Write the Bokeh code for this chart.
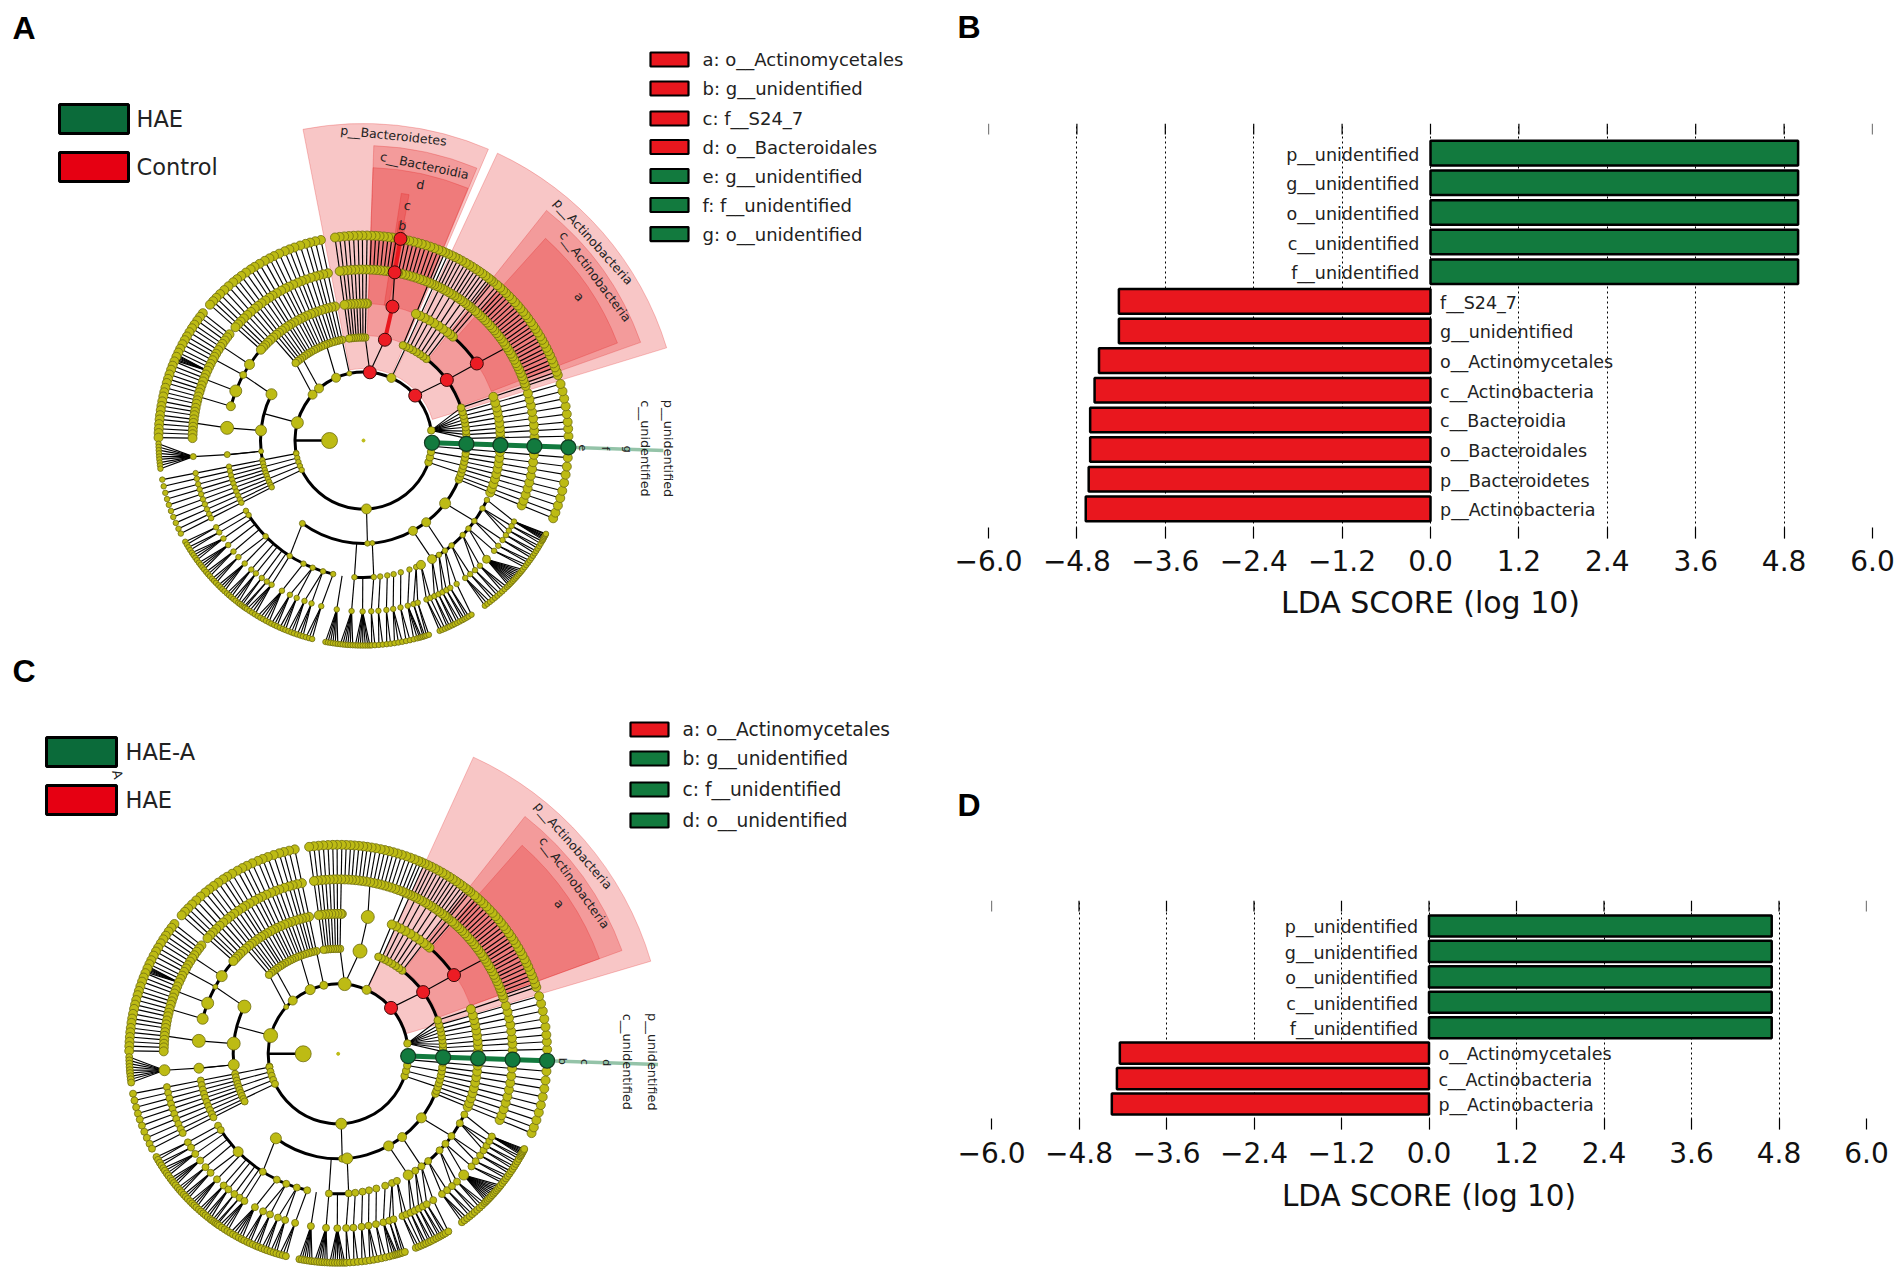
import math
import numpy as np
from bokeh.embed import file_html
from bokeh.layouts import column, row
from bokeh.models import ColumnDataSource, FixedTicker, LinearAxis, Range1d
from bokeh.core.properties import value
from bokeh.plotting import figure
from bokeh.resources import INLINE

# ---------- LDA bars ----------
TICKS = [-6.0, -4.8, -3.6, -2.4, -1.2, 0.0, 1.2, 2.4, 3.6, 4.8, 6.0]
TICK_TEXT = ["\u22126.0", "\u22124.8", "\u22123.6", "\u22122.4", "\u22121.2", "0.0", "1.2", "2.4", "3.6", "4.8", "6.0"]
B_TAXA = ["p__unidentified", "g__unidentified", "o__unidentified", "c__unidentified", "f__unidentified",
          "f__S24_7", "g__unidentified", "o__Actinomycetales", "c__Actinobacteria", "c__Bacteroidia",
          "o__Bacteroidales", "p__Bacteroidetes", "p__Actinobacteria"]
B_SCORES = [4.99, 4.99, 4.99, 4.99, 4.99, -4.23, -4.23, -4.50, -4.56, -4.62, -4.62, -4.64, -4.68]
D_TAXA = ["p__unidentified", "g__unidentified", "o__unidentified", "c__unidentified", "f__unidentified",
          "o__Actinomycetales", "c__Actinobacteria", "p__Actinobacteria"]
D_SCORES = [4.70, 4.70, 4.70, 4.70, 4.70, -4.24, -4.28, -4.35]

# ---------- legends ----------
A_GROUPS = ["HAE", "Control"]
C_GROUPS = ["HAE-A", "HAE"]
A_KEYS = ["a: o__Actinomycetales", "b: g__unidentified", "c: f__S24_7", "d: o__Bacteroidales",
          "e: g__unidentified", "f: f__unidentified", "g: o__unidentified"]
A_KEY_CLASS = ["r", "r", "r", "r", "g", "g", "g"]
C_KEYS = ["a: o__Actinomycetales", "b: g__unidentified", "c: f__unidentified", "d: o__unidentified"]
C_KEY_CLASS = ["r", "g", "g", "g"]

# ---------- cladogram: angles in degrees, counter-clockwise from east ----------
RADII_A = [34.0, 68.5, 103.0, 137.0, 171.0, 205.0]
RADII_C = [35.0, 70.0, 105.0, 140.0, 174.5, 209.0]
GREEN_ANGLE = 358.1

# runs of single-child lineages: (first ring, last ring, angles)
CHAINS = [
    (2, 5, [102.0, 103.6, 105.1, 106.4, 108.0, 109.7, 111.2, 112.6, 114.3, 115.9, 117.3, 118.8, 120.5, 122.1,
            123.4, 125.0, 126.6, 128.1, 129.5, 131.2]),
    (3, 5, [132.8, 134.4, 135.9, 137.2, 138.5]),
    (4, 5, [141.6, 142.9, 144.2, 145.6, 146.8, 148.1, 149.5, 150.7, 152.0, 153.4, 154.6, 155.9, 157.3, 158.6,
            159.8, 161.2, 162.5, 163.7, 165.1, 166.4, 167.6, 169.0, 170.3, 171.5, 172.9, 174.1, 175.4, 176.7,
            177.9, 179.2]),
    (1, 5, [191.0, 194.8, 198.3, 201.9, 205.5]),
    (2, 5, [192.9, 196.6, 200.1, 203.7, 207.0]),
    (1, 5, [355.2, 350.4, 345.8, 341.5]),
    (2, 5, [352.7, 348.1, 343.7, 339.4, 337.7]),
    (2, 5, [1.2, 3.3, 5.2, 7.4, 9.6, 11.8, 13.9, 16.0, 18.6]),
    (4, 5, [19.6, 20.9, 22.1, 23.3, 24.6, 25.8, 26.9, 28.2, 29.4, 30.5, 31.8, 33.0, 34.1, 35.3, 36.6, 37.7, 38.9,
            40.1, 41.2, 42.4, 43.6, 44.8, 46.0, 47.1, 48.2, 51.6, 53.5, 55.7, 57.9, 60.1, 62.4, 64.5, 66.6, 68.6,
            69.8, 71.0, 72.3, 73.5, 74.7, 75.9, 77.1, 78.3, 80.8, 82.0, 83.1, 84.3, 85.5, 86.6, 87.8]),
    (3, 5, [49.3, 50.8]),
    (2, 5, [52.4, 54.6, 56.8, 59.0, 61.3, 63.5, 65.6, 67.5]),
    (2, 5, [89.0, 90.3, 91.5, 92.8, 94.1, 95.4, 96.7, 98.0]),
]
# parents with their own children: (parent ring, parent angle, child angles on next ring)
FANS = [
    (1, 8.5, [1.2, 3.3, 5.2, 7.4, 9.6, 11.8, 13.9, 16.0, 18.6]),
    (1, 41.0, [36.0]), (2, 36.0, [34.2]), (3, 34.2, [33.0]),
    (1, 66.0, [65.6]), (1, 84.7, [78.0]), (2, 78.0, [77.8]), (3, 77.8, [79.5]), (4, 79.5, [79.6]),
    (1, 84.7, [89.0]), (1, 101.9, [102.0]), (1, 113.6, [111.2]), (1, 130.5, [126.6]), (1, 138.0, [131.2]),
    (2, 153.3, [151.4]), (2, 174.4, [174.7]), (2, 186.0, [185.9]), (3, 185.9, [185.4]),
    (4, 185.4, [180.9, 181.8, 182.7, 183.6, 184.5, 185.3, 186.2, 187.0, 187.9]),
    (3, 210.9, [210.5]), (3, 213.0, [212.5]),
    (4, 210.5, [209.6, 210.5]), (4, 212.5, [211.4, 212.3]),
    (4, 215.0, [213.2, 214.0, 214.9, 215.7]), (4, 217.7, [216.6, 217.4, 218.2, 219.0]),
    (4, 220.5, [219.9, 220.7, 221.5]), (3, 224.4, [223.0]), (4, 223.0, [222.4, 223.2, 224.0]),
    (4, 226.0, [224.9, 225.7, 226.5, 227.3]), (4, 229.0, [228.2, 229.0, 229.8]), (4, 231.0, [230.6, 231.4, 232.3]),
    (4, 233.5, [232.9, 233.6]), (4, 235.6, [234.2, 234.7]),
    (2, 233.6, [237.4]), (3, 237.4, [237.5]), (4, 237.5, [235.3, 236.2, 237.1, 238.0]),
    (3, 244.0, [241.5]), (4, 241.5, [238.9, 239.8, 240.7, 241.6, 242.5]),
    (3, 248.2, [244.5, 247.0]), (4, 244.5, [243.3, 244.2, 245.0]), (4, 247.0, [245.9, 246.8, 247.6]),
    (3, 252.8, [249.8, 252.3]), (4, 249.8, [248.5, 249.4, 250.2]), (4, 252.3, [251.1, 252.0, 252.8]),
    (3, 257.2, [255.7]), (4, 255.7, [253.7, 254.6, 255.5]),
    (4, 261.0, [259.3, 260.0, 260.7, 261.4, 262.1, 262.8]),
    (3, 266.2, [266.0]), (4, 266.0, [263.5, 264.2, 264.9, 265.6, 266.3, 267.0]),
    (4, 269.7, [267.7, 268.4, 269.1, 269.8, 270.5, 271.2, 271.8]),
    (1, 272.5, [272.2]), (2, 274.9, [274.3]),
    (3, 274.3, [272.6]), (4, 272.6, [272.3, 273.2]), (3, 277.0, [275.0]), (4, 275.0, [274.3, 275.4]),
    (3, 280.0, [277.7]), (4, 277.7, [276.5, 277.6]), (3, 282.7, [280.0]), (4, 280.0, [278.7, 279.8, 280.9]),
    (3, 285.8, [282.5]), (4, 282.5, [282.0, 283.1]), (3, 289.6, [285.0]), (4, 285.0, [284.2, 285.2, 285.9, 286.4]),
    (3, 292.6, [287.0]), (4, 287.0, [286.9, 287.4]), (4, 288.5, [287.9, 288.6]),
    (3, 294.8, [291.6, 293.0]), (4, 291.6, [291.8, 292.6]), (4, 293.0, [293.4]),
    (2, 298.7, [300.0]), (3, 300.0, [294.5, 296.0]), (4, 294.5, [294.2, 294.9]), (4, 296.0, [295.7, 296.4]),
    (3, 303.4, [297.5, 299.0]), (4, 297.5, [297.2, 298.0]), (4, 299.0, [298.8, 299.5]),
    (2, 307.5, [306.5]), (3, 306.5, [300.5, 303.0]), (4, 300.5, [300.2, 300.9]), (4, 303.0, [301.8]),
    (3, 310.0, [306.5, 308.6]), (4, 306.5, [306.3, 307.2, 308.1]), (4, 308.6, [309.0, 309.9]),
    (3, 316.4, [310.7, 312.9]), (4, 310.7, [310.8, 311.7]), (4, 312.9, [312.6, 313.5, 314.4]),
    (3, 320.0, [316.0, 319.8]),
    (4, 316.0, [315.0, 315.6, 316.2, 316.8, 317.4, 318.0, 318.6, 319.2, 319.8, 320.4, 321.0]),
    (4, 319.8, [321.8, 322.6]),
    (2, 322.4, [324.0]), (3, 324.0, [322.0, 324.4]), (4, 322.0, [323.4, 324.2]), (4, 324.4, [325.0, 325.8]),
    (3, 330.3, [326.4, 328.2, 330.0]), (4, 326.4, [326.6, 327.4]), (4, 328.2, [328.2, 329.0]), (4, 330.0, [329.8, 330.6]),
    (3, 334.3, [331.7]), (4, 331.7, [331.0, 331.4, 331.8, 332.2, 332.6, 332.9]),
]
# parent ring and the two angles of a link that ends on an arc (no node of its own)
LINKS = [
    (3, 146.3, 146.3), (3, 151.4, 151.4), (3, 158.8, 158.8), (3, 165.5, 165.1), (3, 174.7, 174.1),
    (1, 164.9, 164.9), (2, 186.0, 186.0),
    (3, 215.0, 215.0), (3, 217.7, 217.7), (3, 220.5, 220.5), (3, 226.0, 226.0),
    (3, 229.0, 229.0), (3, 231.0, 231.0), (3, 233.5, 233.5), (3, 235.6, 235.6),
    (3, 261.0, 261.0), (3, 269.7, 269.7), (2, 266.2, 266.2), (3, 292.6, 288.5),
    (4, 155.9, 155.3), (4, 155.9, 155.6), (4, 155.9, 156.2), (4, 155.9, 156.6), (4, 155.9, 157.0),
]
# thick arcs: (ring, from angle, to angle)
ARCS = [
    (1, 8.5, 350.0),
    (2, 18.6, 53.0), (2, 153.3, 207.0), (2, 233.6, 338.0),
    (3, 34.2, 49.3), (3, 139.0, 165.5), (3, 210.9, 257.2), (3, 266.2, 274.3), (3, 300.0, 334.3),
]
EXTRA_NODES = [
    (0, 180.0), (1, 190.5), (1, 113.6), (1, 101.9), (1, 130.5), (1, 138.0), (1, 164.9),
    (2, 153.3), (2, 174.4), (2, 186.0), (2, 233.6),
    (3, 146.3), (3, 151.4), (3, 158.8), (3, 165.5), (3, 174.7), (3, 185.9),
    (3, 88.5), (3, 210.9), (3, 213.0),
]
A_RED = [(1, 84.7), (1, 41.0), (2, 78.0), (2, 36.0), (3, 77.8), (3, 34.2), (4, 79.5), (5, 79.6)]
C_RED = [(1, 41.0), (2, 36.0), (3, 34.2)]

A_SIZES = {(0, 180.0): 16, (1, 164.9): 12, (1, 138.0): 9, (1, 130.5): 9, (1, 113.6): 9, (1, 101.9): 5, (1, 66.0): 9,
           (1, 272.5): 10, (2, 153.3): 11, (2, 174.4): 11, (2, 186.0): 5, (2, 298.7): 9, (2, 307.5): 9,
           (2, 322.4): 11, (2, 233.6): 6, (2, 274.9): 5, (3, 146.3): 10, (3, 151.4): 7, (3, 158.8): 12,
           (3, 165.5): 9, (3, 174.7): 13, (3, 185.9): 6, (3, 300.0): 9, (3, 294.8): 9, (4, 185.4): 6, (4, 316.0): 8}
C_SIZES = {(0, 180.0): 16, (1, 164.9): 14, (1, 138.0): 5, (1, 130.5): 9, (1, 113.6): 10, (1, 101.9): 8, (1, 66.0): 9,
           (1, 272.5): 11, (1, 84.7): 13, (2, 78.0): 14, (3, 77.8): 13, (2, 153.3): 13, (2, 174.4): 13,
           (2, 186.0): 11, (2, 298.7): 10, (2, 307.5): 9, (2, 322.4): 10, (2, 233.6): 11, (2, 274.9): 11,
           (3, 146.3): 11, (3, 151.4): 5, (3, 158.8): 12, (3, 165.5): 11, (3, 174.7): 13, (3, 185.9): 10,
           (3, 224.4): 10, (3, 300.0): 10, (4, 185.4): 11, (4, 316.0): 10}

# highlighted sectors: inner radius, outer radius, start angle, end angle
A_SECT_INNER = [72, 105, 137, 72, 105, 137, 137, 171]
A_SECT_OUTER = [317, 295, 273, 317, 294, 272, 250, 222]
A_SECT_START = [66.8, 67.4, 67.5, 17.0, 19.5, 21.0, 79.5, 79.0]
A_SECT_END = [101.0, 88.0, 88.0, 65.0, 51.5, 48.0, 81.3, 80.8]
C_SECT_INNER = [71, 107, 141]
C_SECT_OUTER = [326, 302, 278]
C_SECT_START = [16.5, 20.0, 20.0]
C_SECT_END = [65.5, 51.8, 48.6]

GREEN = "#127A3E"
RED = "#E9171E"
OLIVE = "#BDBB14"
FONT = value("DejaVu Sans")
W_LEFT, W_RIGHT = 950, 952
H_TOP, H_BOT = 650, 625


def polar(cx, cy, r, a):
    t = math.radians(a)
    return cx + r * math.cos(t), cy - r * math.sin(t)


def canvas_fig(x0, top, w, h):
    # data units are page pixels, with the vertical axis negated so that angles read counter-clockwise
    p = figure(width=w, height=h, x_range=Range1d(x0, x0 + w), y_range=Range1d(-(top + h), -top),
               x_axis_type=None, y_axis_type=None, toolbar_location=None, output_backend="svg",
               min_border=0, outline_line_color=None)
    p.grid.visible = False
    return p


def letter(p, txt, x, y):
    p.text([x], [-y], text=[txt], text_font=value("Liberation Sans"), text_font_size="32px",
           text_font_style="bold", text_color="black", text_baseline="alphabetic")


def cladogram(top, height, cx, cy, radii, sizes, reds, sectors, sector_texts, tail_end, tail_letters, tail_x,
              groups, key_rows, lower_size, key_font):
    p = canvas_fig(0, top, W_LEFT, height)
    inner, outer, start, end = sectors
    p.annular_wedge(x=[cx] * len(inner), y=[-cy] * len(inner), inner_radius=inner, outer_radius=outer,
                    start_angle=start, end_angle=end, start_angle_units="deg", end_angle_units="deg",
                    fill_color="#E41A1C", fill_alpha=0.25, line_color="#E41A1C", line_alpha=0.25, line_width=1)

    nodes, xs, ys = set(EXTRA_NODES), [], []

    def seg(k0, a0, k1, a1):
        x0, y0 = polar(cx, cy, radii[k0], a0)
        x1, y1 = polar(cx, cy, radii[k1], a1)
        xs.append([x0, x1])
        ys.append([-y0, -y1])

    for first, last, angles in CHAINS:
        for a in angles:
            for k in range(first, last + 1):
                nodes.add((k, a))
                if k > first:
                    seg(k - 1, a, k, a)
    for k, pa, children in FANS:
        nodes.add((k, pa))
        for ch in children:
            nodes.add((k + 1, ch))
            seg(k, pa, k + 1, ch)
    for k, a0, a1 in LINKS:
        seg(k, a0, k + 1, a1)
    p.multi_line(xs, ys, line_color="black", line_width=1.15)

    p.arc(x=[cx + 0.0] * len(ARCS), y=[-cy] * len(ARCS), radius=[radii[r[0]] for r in ARCS],
          start_angle=[r[1] for r in ARCS], end_angle=[r[2] for r in ARCS], start_angle_units="deg",
          end_angle_units="deg", line_color="black", line_width=3)
    x0, y0 = polar(cx, cy, radii[0], 180.0)
    x1, y1 = polar(cx, cy, radii[1], 180.0)
    p.line([x0, x1], [-y0, -y1], line_color="black", line_width=2.6)

    for k0, a0, k1, a1 in [(2, 78.0, 3, 77.8), (4, 79.5, 5, 79.6)]:
        if (k1, a1) in reds:
            xa, ya = polar(cx, cy, radii[k0], a0)
            xb, yb = polar(cx, cy, radii[k1], a1)
            p.line([xa, xb], [-ya, -yb], line_color=RED, line_width=4)

    xa, ya = polar(cx, cy, radii[1], GREEN_ANGLE)
    xb, yb = polar(cx, cy, radii[5], GREEN_ANGLE)
    xt, yt = polar(cx, cy, tail_end, GREEN_ANGLE)
    p.line([xb, xt], [-yb, -yt], line_color=GREEN, line_alpha=0.45, line_width=3.5)
    p.line([xa, xb], [-ya, -yb], line_color=GREEN, line_width=5)

    reg = sorted(n for n in nodes if n not in reds)

    def dia(n):
        if n in sizes:
            return sizes[n]
        k, ang = n
        upper = ang < 180 or ang > 337
        if k >= 3:
            return 9 if upper else lower_size
        return 7.5 if upper else lower_size

    nx, ny = zip(*[polar(cx, cy, radii[k], ang) for k, ang in reg])
    p.scatter(list(nx), [-v for v in ny], size=[dia(n) for n in reg], fill_color=OLIVE,
              line_color="#6E6C10", line_width=0.8)
    p.scatter([cx], [-cy], size=3, fill_color=OLIVE, line_color=OLIVE)
    rx, ry = zip(*[polar(cx, cy, radii[k], ang) for k, ang in reds])
    p.scatter(list(rx), [-v for v in ry], size=13, fill_color="#EC1C24", line_color="#3A0A0A", line_width=1)
    gx, gy = zip(*[polar(cx, cy, radii[k], GREEN_ANGLE) for k in range(1, 6)])
    p.scatter(list(gx), [-v for v in gy], size=15, fill_color=GREEN, line_color="#123A22", line_width=1.2)

    for txt, px, py, rot, fs in sector_texts:
        p.text([px], [-py], text=[txt], angle=rot, angle_units="deg", text_font=FONT, text_font_size=fs,
               text_align="center", text_baseline="middle", text_color="#222222")
    for i, txt in enumerate(tail_letters):
        xl, yl = polar(cx, cy, radii[5] + 15 + i * 22, GREEN_ANGLE)
        p.text([xl], [-yl], text=[txt], angle=-90, angle_units="deg", text_font=FONT, text_font_size="11px",
               text_align="center", text_baseline="middle", text_color="#222222")
    for txt, tx in zip(["p__unidentified", "c__unidentified"], tail_x):
        p.text([tx], [-(cy + 8)], text=[txt], angle=-90, angle_units="deg", text_font=FONT, text_font_size="12.8px",
               text_align="center", text_baseline="middle", text_color="#222222")

    for name, col, (x, y, w, h), tx in groups:
        p.rect([x + w / 2], [-(y + h / 2)], width=w, height=h, fill_color=col, line_color="black", line_width=3)
        p.text([tx], [-(y + h / 2)], text=[name], text_font=FONT, text_font_size="22.5px", text_baseline="middle",
               text_color="#222222")
    for name, cls, (x, y, w, h), tx in key_rows:
        p.rect([x + w / 2], [-y], width=w, height=h, fill_color=GREEN if cls == "g" else RED,
               line_color="black", line_width=2.2)
        p.text([tx], [-y], text=[name], text_font=FONT, text_font_size=key_font, text_baseline="middle",
               text_color="#222222")
    return p


def bars(height, left_b, right_b, top_b, bottom_b, taxa, scores, ymax, label_font, tick_off, label_off, top_tick):
    n = len(taxa)
    p = figure(width=W_RIGHT, height=height, x_range=Range1d(-6.0, 6.0), y_range=Range1d(-1.0, ymax),
               x_axis_location=None, y_axis_location=None, toolbar_location=None, output_backend="svg",
               min_border_left=left_b, min_border_right=right_b, min_border_top=top_b, min_border_bottom=bottom_b,
               outline_line_color=None)
    ticker = FixedTicker(ticks=TICKS)
    below = LinearAxis(ticker=ticker, axis_label="LDA SCORE (log 10)", axis_line_color=None,
                       major_tick_in=11, major_tick_out=0, minor_tick_line_color=None,
                       major_tick_line_color="black", major_tick_line_width=1.2,
                       major_label_overrides=dict(zip(TICKS, TICK_TEXT)),
                       major_label_text_font="DejaVu Sans", major_label_text_font_size="28px",
                       major_label_text_color="#111111", major_label_standoff=tick_off,
                       axis_label_text_font="DejaVu Sans", axis_label_text_font_size=label_font,
                       axis_label_text_font_style="normal", axis_label_text_color="#111111",
                       axis_label_standoff=label_off)
    p.add_layout(below, "below")
    p.xgrid.ticker = ticker
    p.xgrid.grid_line_color = "black"
    p.xgrid.grid_line_dash = "2 3"
    p.xgrid.grid_line_width = 1
    p.ygrid.visible = False
    # inward tick marks along the top edge
    p.segment(x0=TICKS, x1=TICKS, y0=[ymax - top_tick] * len(TICKS), y1=[ymax] * len(TICKS),
              line_color="black", line_width=1.2)
    ypos = [n - 1 - i for i in range(n)]
    src = ColumnDataSource(dict(
        y=ypos, ty=[v - 0.05 for v in ypos], right=scores, left=[0.0] * n,
        color=[GREEN if s > 0 else RED for s in scores], taxa=taxa,
        tx=[-0.15 if s > 0 else 0.13 for s in scores],
        ta=["right" if s > 0 else "left" for s in scores]))
    p.hbar(y="y", left="left", right="right", height=0.83, fill_color="color", line_color="black", line_width=2.5, source=src)
    p.text(x="tx", y="ty", text="taxa", text_align="ta", text_baseline="middle", text_font=FONT,
           text_font_size="17.5px", text_color="#222222", source=src)
    return p


a = cladogram(
    0, H_TOP, 363.0, 440.0, RADII_A, A_SIZES, A_RED,
    (A_SECT_INNER, A_SECT_OUTER, A_SECT_START, A_SECT_END),
    [("p__Bacteroidetes", 393, 135, -6, "12.5px"), ("c__Bacteroidia", 424, 165, -12, "12.5px"),
     ("d", 420, 184, -10, "12.5px"), ("c", 407, 205, -10, "12.5px"), ("b", 402, 225, -10, "12.5px"),
     ("p__Actinobacteria", 593, 241, -48, "12.5px"), ("c__Actinobacteria", 595, 276, -53, "12.5px"),
     ("a", 579, 296, -50, "12.5px")],
    300, ["e", "f", "g"], [668, 645],
    [(A_GROUPS[0], "#0B6B3A", (59, 104, 69, 29), 136), (A_GROUPS[1], "#E60012", (59, 152, 69, 29), 136)],
    [(n, k, (650, y, 38, 14), 702) for n, k, y in zip(A_KEYS, A_KEY_CLASS, [59, 88, 118, 146.5, 175.5, 204.5, 233.6])],
    5.5, "18px",
)
c = cladogram(
    H_TOP, H_BOT, 337.7, 1053.3, RADII_C, C_SIZES, C_RED,
    (C_SECT_INNER, C_SECT_OUTER, C_SECT_START, C_SECT_END),
    [("p__Actinobacteria", 573, 845, -49, "12.5px"), ("c__Actinobacteria", 574, 882, -54, "12.5px"),
     ("a", 559, 903, -50, "12.5px"), ("A", 117, 774, -75, "13px")],
    320, ["b", "c", "d"], [652, 627],
    [(C_GROUPS[0], "#0B6B3A", (46, 737, 70, 29), 125), (C_GROUPS[1], "#E60012", (46, 785, 70, 29), 125)],
    [(n, k, (630, y, 38, 14), 682) for n, k, y in zip(C_KEYS, C_KEY_CLASS, [729, 758, 789, 820])],
    7, "18.6px",
)
letter(a, "A", 12, 27)
letter(c, "C", 12, 670)

# right column: a header strip holding the panel letter, then the bar chart
head_b = canvas_fig(950, 0, W_RIGHT, 50)
letter(head_b, "B", 957, 26)
b = bars(590, 38, 30, 73, 102, B_TAXA, B_SCORES, 13.0, "30px", 11, 11, 0.37)
head_d = canvas_fig(950, 640, W_RIGHT, 190)
letter(head_d, "D", 957, 804)
d = bars(445, 41, 36, 70, 146, D_TAXA, D_SCORES, 8.0, "29.5px", 12, 13, 0.43)

page = row(column(a, c), column(row(head_b), row(b), row(head_d), row(d)))
open("out.html", "w").write(file_html(page, INLINE))
